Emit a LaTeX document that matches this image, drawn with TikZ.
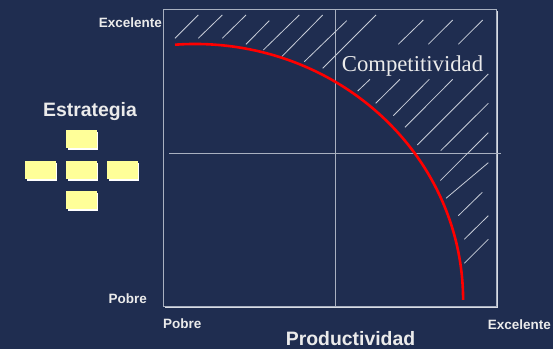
\documentclass[tikz,border=0pt]{standalone}
\usepackage{fontspec}
\setmainfont{Liberation Serif}
\setsansfont{Liberation Sans}
\definecolor{bgnavy}{RGB}{31,45,80}
\definecolor{framegrey}{RGB}{168,176,192}
\definecolor{shadowgrey}{RGB}{216,220,228}
\definecolor{hatchgrey}{RGB}{200,205,216}
\definecolor{boxyellow}{RGB}{255,255,153}
\begin{document}
\begin{tikzpicture}[x=1pt,y=-1pt,
  lbl/.style={font=\sffamily\bfseries\fontsize{13.5}{14}\selectfont, text=white!92!black, inner sep=0pt},
  biglbl/.style={font=\sffamily\bfseries\fontsize{19.4}{20}\selectfont, text=white!92!black, inner sep=0pt},
  hatch/.style={draw=hatchgrey, line width=0.8pt},
  divider/.style={draw=framegrey, line width=1pt},
  ybox/.style={fill=boxyellow},
  yshadow/.style={fill=white}]
\useasboundingbox (0,0) rectangle (553,349);
\fill[bgnavy] (0,0) rectangle (553,349);

% frame with shadow
\draw[shadowgrey, line width=2.2pt] (497,11) -- (497,306.8) -- (165,306.8);
\draw[framegrey, line width=1pt] (163,9) rectangle (496,306);

% dividers
\draw[divider] (335,9) -- (335,306);
\draw[divider] (169,153) -- (501,153);

% hatching
\foreach \a/\b/\c/\d in {
  175/38.3/198.3/15, 198.3/38.3/222.3/15, 222.3/38.3/246/15,
  246/44.3/269.3/20.7, 263.3/50/299.3/15, 281.7/56.7/322.7/15,
  304.3/61.7/346.7/20.7, 322.7/68.3/376/15,
  398.3/44.3/423.3/20, 428.3/44.3/452.7/20, 458.3/44.3/482.7/20,
  357.7/91/370/79.3, 375.7/103.3/400/79.3, 393.3/115.7/429.3/79.3,
  405/127.3/452.7/79.3, 417.3/145/488.3/74, 440.7/150.7/488.3/103.3,
  440.3/180.5/488.3/132.7, 446/198.3/488.3/162.7, 458.3/215.7/482.3/192.3,
  464.3/239.3/488.3/215.7, 464.3/263.3/488.3/239.3}
  \draw[hatch] (\a,\b) -- (\c,\d);

% red frontier curve
\draw[red, line width=2.6pt] (175,44.7) arc[start angle=-94.3, end angle=0, x radius=268, y radius=256];

% text
\node[font=\rmfamily\fontsize{22.7}{24}\selectfont, text=white!92!black, inner sep=0pt, anchor=base west] (comp) at (341.7,71.5) {Competitividad};
\node[lbl, anchor=base east] (ytop) at (162,27.3) {Excelente};
\node[lbl, anchor=base east] (ybot) at (147,303) {Pobre};
\node[lbl, anchor=base west] (xlow) at (163,328.3) {Pobre};
\node[lbl, anchor=base east] (xhigh) at (551,329) {Excelente};
\node[biglbl, anchor=base] (xlab) at (350.5,345.3) {Productividad};
\node[biglbl, anchor=base] (ylab) at (90,116.7) {Estrategia};

% strategy squares
\foreach \n/\x/\y in {s1/66/130, s2/25/161, s3/66/161, s4/107/161, s5/66/191} {
  \fill[yshadow] (\x+1.7,\y+1.7) rectangle (\x+32.4,\y+20);
  \fill[ybox] (\x,\y) rectangle (\x+30.7,\y+18.3);
}
\end{tikzpicture}
\end{document}
